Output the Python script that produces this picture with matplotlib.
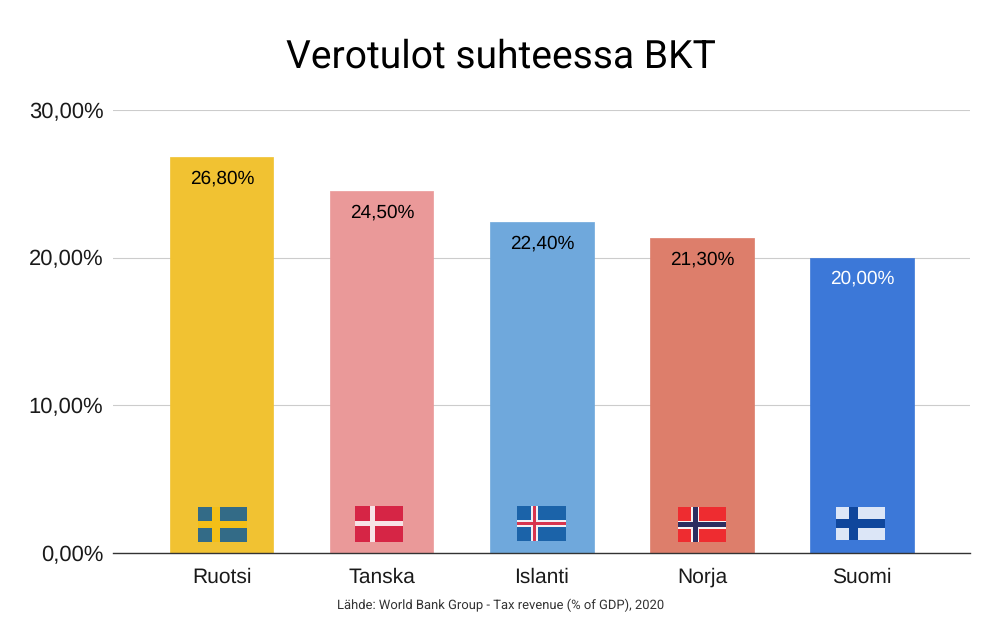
import matplotlib
matplotlib.use('Agg')
import matplotlib.pyplot as plt

plt.rcParams['font.family'] = ['Roboto', 'DejaVu Sans']
plt.rcParams['text.hinting'] = 'no_hinting'
plt.rcParams['text.hinting_factor'] = 1

countries = ['Ruotsi', 'Tanska', 'Islanti', 'Norja', 'Suomi']
values = [26.8, 24.5, 22.4, 21.3, 20.0]
value_labels = ['26,80%', '24,50%', '22,40%', '21,30%', '20,00%']
bar_colors = ['#F1C232', '#EA9999', '#6FA8DC', '#DD7E6B', '#3C78D8']
label_colors = ['#000000', '#000000', '#000000', '#000000', '#FFFFFF']
yticks = [0, 10, 20, 30]
ytick_labels = ['0,00%', '10,00%', '20,00%', '30,00%']

W, H = 1000, 619
fig = plt.figure(figsize=(W / 100, H / 100), dpi=100, facecolor='white')
ax = fig.add_axes([113 / W, 1 - 553 / H, (970 - 113) / W, (553 - 110) / H])

xs = list(range(len(countries)))
ax.bar(xs, values, width=0.645, color=bar_colors, edgecolor=bar_colors, linewidth=0.5, joinstyle='round', zorder=2)
ax.set_xlim(-0.68, 4.675)
ax.set_ylim(0, 30)

ax.set_yticks(yticks, ytick_labels, fontsize=15.5, color='#1a1a1a', family='Liberation Sans')
ax.set_xticks(xs, countries, fontsize=15, color='#1a1a1a', family='Liberation Sans')
ax.tick_params(length=0)
ax.tick_params(axis='y', pad=7)
ax.tick_params(axis='x', pad=10.5)
ax.grid(axis='y', color='#cccccc', linewidth=0.8, zorder=0)
ax.set_axisbelow(True)
for s in ['top', 'left', 'right']:
    ax.spines[s].set_visible(False)
ax.spines['bottom'].set_color('#333333')
ax.spines['bottom'].set_linewidth(1.0)
ax.spines['bottom'].set_zorder(3)

for x, v, lab, c in zip(xs, values, value_labels, label_colors):
    ax.annotate(lab, (x, v), xytext=(0, -15.2), textcoords='offset points', ha='center', va='center',
                fontsize=13.4, color=c, family='Liberation Sans', zorder=4)


# flags, sizes in pixels around the bar centre
def rect(cx, px0, py0, w, h, color):
    ax.add_patch(plt.Rectangle((cx + px0 / 160, py0 * 30 / 443), w / 160, h * 30 / 443,
                               facecolor=color, edgecolor='none', zorder=3))


def flag(cx, x0, bottom, w, h, bg, cross_x, cross_h, cross_w, inner=None, inner_w=0):
    rect(cx, x0, bottom, w, h, bg)
    rect(cx, x0 + cross_x - cross_w / 2, bottom, cross_w, h, cross_h)
    rect(cx, x0, bottom + h / 2 - cross_w / 2, w, cross_w, cross_h)
    if inner:
        rect(cx, x0 + cross_x - inner_w / 2, bottom, inner_w, h, inner)
        rect(cx, x0, bottom + h / 2 - inner_w / 2, w, inner_w, inner)


flag(0, -24, 11, 49, 35, '#336B87', 18, '#F4BF17', 7.5)
flag(1, -27, 11.5, 48, 35.5, '#D62545', 18, '#F7E3E6', 5)
flag(2, -25, 12, 49, 35, '#1B63A9', 17.5, '#F1F1F5', 7, '#D7354F', 3.5)
flag(3, -24, 11, 48, 35, '#EE2C30', 17.5, '#F7F2F2', 8, '#2B2D60', 4.5)
flag(4, -26, 13, 49, 33.5, '#DCE6F7', 17.5, '#0F469C', 9)

fig.text(500.5 / W, 1 - 57 / H, 'Verotulot suhteessa BKT', ha='center', va='center', fontsize=28.2, color='#000000')
fig.text(500.5 / W, 1 - 605 / H, 'Lähde: World Bank Group - Tax revenue (% of GDP), 2020', ha='center', va='center',
         fontsize=9.1, color='#333333')

fig.savefig('out.png', dpi=100)
